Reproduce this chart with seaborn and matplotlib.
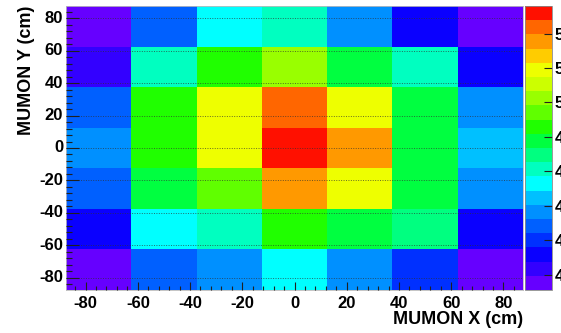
import numpy as np
import pandas as pd
import matplotlib
matplotlib.use("Agg")
import matplotlib.pyplot as plt
from matplotlib.colors import ListedColormap
from matplotlib.ticker import FixedLocator
import seaborn as sns

# ---- data ----
x_centers = [-75, -50, -25, 0, 25, 50, 75]          # MUMON X bin centres (cm)
y_centers = [75, 50, 25, 0, -25, -50, -75]          # MUMON Y bin centres (cm), top to bottom
row_p75 = [39.5, 42.8, 45.3, 46.1, 43.6, 41.2, 39.4]
row_p50 = [40.3, 46.1, 48.6, 50.2, 47.8, 46.1, 41.2]
row_p25 = [42.8, 48.6, 51.9, 54.4, 51.9, 47.8, 43.6]
row_0 = [43.6, 48.6, 51.9, 55.5, 53.5, 47.8, 44.5]
row_m25 = [42.8, 47.8, 49.4, 53.5, 51.9, 47.8, 43.6]
row_m50 = [41.2, 45.3, 46.1, 48.6, 47.8, 47.3, 41.2]
row_m75 = [39.2, 42.8, 43.6, 45.3, 43.6, 42.4, 39.5]
x_ticks = [-80, -60, -40, -20, 0, 20, 40, 60, 80]
y_ticks = [80, 60, 40, 20, 0, -20, -40, -60, -80]
cbar_ticks = [40, 42, 44, 46, 48, 50, 52, 54]
z_min, z_max = 39.1, 55.6

palette = ["#6600ff", "#3300ff", "#0a00ff", "#0030ff", "#0060ff", "#0090ff",
           "#00c0ff", "#00ffff", "#00ffc0", "#00ff80", "#00ff40", "#20ff00",
           "#60ff00", "#99ff00", "#ccff00", "#eeff00", "#ffcc00", "#ff9900",
           "#ff6600", "#ff1000"]

df = pd.DataFrame([row_p75, row_p50, row_p25, row_0, row_m25, row_m50, row_m75],
                  index=y_centers, columns=x_centers)

# ---- figure ----
W, H = 561, 333
fig = plt.figure(figsize=(W / 100, H / 100), dpi=100)
ax = fig.add_axes([66 / W, 1 - 290 / H, 457 / W, 284 / H])
cax = fig.add_axes([525 / W, 1 - 290 / H, 27 / W, 284 / H])

cmap = ListedColormap(palette)
sns.heatmap(df, ax=ax, cbar_ax=cax, cmap=cmap, vmin=z_min, vmax=z_max,
            square=False, linewidths=0)

fp = dict(family=["Liberation Sans", "DejaVu Sans"], weight="bold")

binw = 25.0
xlo = x_centers[0] - binw / 2
yhi = y_centers[0] + binw / 2
def xpos(v):
    return (v - xlo) / binw
def ypos(v):
    return (yhi - v) / binw

ax.set_xticks([xpos(v) for v in x_ticks])
ax.set_xticklabels([str(v) for v in x_ticks], rotation=0, fontsize=12, **fp)
ax.set_yticks([ypos(v) for v in y_ticks])
ax.set_yticklabels([str(v) for v in y_ticks], rotation=0, fontsize=12, **fp)
ax.xaxis.set_minor_locator(FixedLocator([xpos(v) for v in np.arange(-84, 85, 4)]))
ax.yaxis.set_minor_locator(FixedLocator([ypos(v) for v in np.arange(-84, 85, 4)]))
ax.tick_params(axis="both", which="both", direction="in", color="#202020",
               width=0.8)
ax.tick_params(axis="x", which="major", length=6, pad=4)
ax.tick_params(axis="x", which="minor", length=3)
ax.tick_params(axis="y", which="major", length=9, pad=2)
ax.tick_params(axis="y", which="minor", length=4.5)

ax.grid(axis="y", which="major", linestyle=(0, (1, 1.5)), color="#303030",
        linewidth=0.7, alpha=0.7)
ax.set_axisbelow(False)
for s in ax.spines.values():
    s.set_visible(True)
    s.set_linewidth(0.6)
    s.set_color("#bbbbbb")

ax.set_xlabel("MUMON X (cm)", loc="right", fontsize=13, labelpad=0, **fp)
ax.set_ylabel("MUMON Y (cm)", loc="top", fontsize=13, labelpad=3, **fp)

cb = ax.collections[0].colorbar
cb.set_ticks(cbar_ticks)
cb.set_ticklabels([str(v) for v in cbar_ticks])
cax.tick_params(axis="y", which="major", direction="in", length=6, width=0.8,
                color="#202020", pad=2, labelsize=12)
for lab in cax.get_yticklabels():
    lab.set_fontfamily(["Liberation Sans", "DejaVu Sans"])
    lab.set_fontweight("bold")
cb.outline.set_linewidth(0.6)
cb.outline.set_edgecolor("#888888")

fig.savefig("out.png", dpi=100)
